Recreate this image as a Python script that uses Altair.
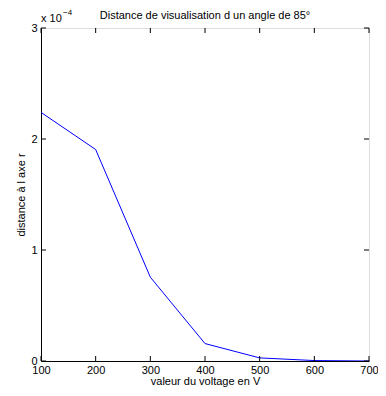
import altair as alt
import pandas as pd

voltage = [100, 200, 300, 400, 500, 600, 700]
distance_e4 = [2.24, 1.905, 0.755, 0.157, 0.028, 0.004, 0.0]
x_ticks = [100, 200, 300, 400, 500, 600, 700]
y_ticks = [0, 1, 2, 3]
title_text = "Distance de visualisation d un angle de 85°"

W, H = 328, 333
FONT = "Liberation Sans"

df = pd.DataFrame({"v": voltage, "d": distance_e4})
xs = alt.Scale(domain=[100, 700], nice=False)
ys = alt.Scale(domain=[0, 3], nice=False)

line = alt.Chart(df).mark_line(color="#0000ff", strokeWidth=1, clip=True).encode(
    x=alt.X("v:Q", scale=xs,
            axis=alt.Axis(values=x_ticks, ticks=False, grid=False, domainColor="black",
                          labelColor="black", labelFontSize=11, labelFont=FONT, labelPadding=3,
                          format="d",
                          title="valeur du voltage en V", titleFontWeight="normal",
                          titleFontSize=11, titleFont=FONT, titleColor="black", titlePadding=0,
                          labelFlush=False)),
    y=alt.Y("d:Q", scale=ys,
            axis=alt.Axis(values=y_ticks, ticks=False, grid=False, domainColor="black",
                          labelColor="black", labelFontSize=11, labelFont=FONT, labelPadding=4,
                          format="d",
                          title="distance à l axe r", titleFontWeight="normal",
                          titleFontSize=11, titleFont=FONT, titleColor="black", titlePadding=4,
                          labelFlush=False)),
)

xt = pd.DataFrame({"v": x_ticks})
yt = pd.DataFrame({"d": y_ticks})
tick_len = 5
xb = alt.Chart(xt).mark_rule(color="black", strokeWidth=1).encode(
    x=alt.X("v:Q", scale=xs), y=alt.value(H), y2=alt.value(H - tick_len))
xtop = alt.Chart(xt).mark_rule(color="black", strokeWidth=1).encode(
    x=alt.X("v:Q", scale=xs), y=alt.value(0), y2=alt.value(tick_len))
yl = alt.Chart(yt).mark_rule(color="black", strokeWidth=1).encode(
    y=alt.Y("d:Q", scale=ys), x=alt.value(0), x2=alt.value(tick_len))
yr = alt.Chart(yt).mark_rule(color="black", strokeWidth=1).encode(
    y=alt.Y("d:Q", scale=ys), x=alt.value(W), x2=alt.value(W - tick_len))

mult = alt.Chart(pd.DataFrame({"t": ["x 10"]})).mark_text(
    align="left", baseline="alphabetic", fontSize=11, font=FONT, color="black"
).encode(text="t:N", x=alt.value(0), y=alt.value(-6))
sup = alt.Chart(pd.DataFrame({"t": ["\u22124"]})).mark_text(
    align="left", baseline="alphabetic", fontSize=8, font=FONT, color="black"
).encode(text="t:N", x=alt.value(22), y=alt.value(-13))
ttl = alt.Chart(pd.DataFrame({"t": [title_text]})).mark_text(
    align="center", baseline="alphabetic", fontSize=11, font=FONT, color="black"
).encode(text="t:N", x=alt.value(W / 2), y=alt.value(-9))

chart = alt.layer(line, xb, xtop, yl, yr, mult, sup, ttl).properties(
    width=W, height=H,
    autosize=alt.AutoSizeParams(type="none"),
    padding={"left": 33, "top": 20, "right": 9, "bottom": 27},
).configure_view(stroke="black", strokeWidth=1).configure(background="white")

chart.save("out.html", embed_options={"renderer": "svg", "actions": False})
